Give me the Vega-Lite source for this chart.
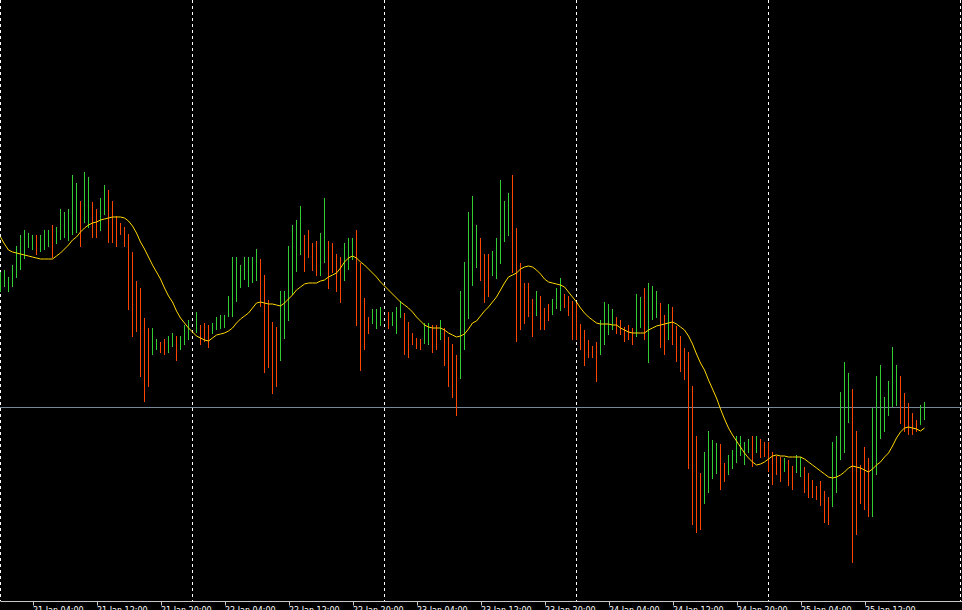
{
"$schema": "https://vega.github.io/schema/vega-lite/v6.json",
"width": 962, "height": 601,
"autosize": {"type": "none"},
"padding": {"left": 0, "top": 0, "right": 0, "bottom": 9},
"background": "#000000",
"config": {"view": {"stroke": null},
 "axisX": {"domainColor": "#C8C8C8", "tickColor": "#C8C8C8", "tickSize": 4, "labelColor": "#FFFFFF", "labelFont": "DejaVu Sans", "labelFontSize": 8, "labelAlign": "left", "labelBaseline": "top", "labelPadding": 1, "labelOverlap": false, "labelFlush": false, "labelBound": false, "grid": false, "title": null}},
"datasets": {
"days": [{"t":"2019-01-21T00:00:00Z"},{"t":"2019-01-22T00:00:00Z"},{"t":"2019-01-23T00:00:00Z"},{"t":"2019-01-24T00:00:00Z"},{"t":"2019-01-25T00:00:00Z"},{"t":"2019-01-26T00:00:00Z"}],
"bars": [
{"t":"2019-01-21T00:00:00Z","h":728,"l":708,"d":"up","ma":763},
{"t":"2019-01-21T00:30:00Z","h":730,"l":713,"d":"up","ma":756},
{"t":"2019-01-21T01:00:00Z","h":723,"l":708,"d":"up","ma":750},
{"t":"2019-01-21T01:30:00Z","h":735,"l":713,"d":"up","ma":748},
{"t":"2019-01-21T02:00:00Z","h":754,"l":722,"d":"up","ma":747},
{"t":"2019-01-21T02:30:00Z","h":765,"l":730,"d":"up","ma":746},
{"t":"2019-01-21T03:00:00Z","h":770,"l":741,"d":"up","ma":745},
{"t":"2019-01-21T03:30:00Z","h":767,"l":752,"d":"up","ma":744},
{"t":"2019-01-21T04:00:00Z","h":765,"l":750,"d":"up","ma":743},
{"t":"2019-01-21T04:30:00Z","h":765,"l":745,"d":"down","ma":742},
{"t":"2019-01-21T05:00:00Z","h":765,"l":748,"d":"up","ma":741},
{"t":"2019-01-21T05:30:00Z","h":770,"l":750,"d":"up","ma":741},
{"t":"2019-01-21T06:00:00Z","h":770,"l":753,"d":"up","ma":741},
{"t":"2019-01-21T06:30:00Z","h":775,"l":742,"d":"down","ma":741},
{"t":"2019-01-21T07:00:00Z","h":773,"l":756,"d":"up","ma":744},
{"t":"2019-01-21T07:30:00Z","h":791,"l":760,"d":"up","ma":747},
{"t":"2019-01-21T08:00:00Z","h":788,"l":762,"d":"up","ma":751},
{"t":"2019-01-21T08:30:00Z","h":791,"l":759,"d":"up","ma":755},
{"t":"2019-01-21T09:00:00Z","h":825,"l":765,"d":"up","ma":760},
{"t":"2019-01-21T09:30:00Z","h":817,"l":767,"d":"up","ma":763},
{"t":"2019-01-21T10:00:00Z","h":799,"l":753,"d":"down","ma":768},
{"t":"2019-01-21T10:30:00Z","h":828,"l":777,"d":"up","ma":772},
{"t":"2019-01-21T11:00:00Z","h":823,"l":772,"d":"up","ma":775},
{"t":"2019-01-21T11:30:00Z","h":798,"l":762,"d":"down","ma":777},
{"t":"2019-01-21T12:00:00Z","h":791,"l":762,"d":"down","ma":778},
{"t":"2019-01-21T12:30:00Z","h":802,"l":769,"d":"up","ma":780},
{"t":"2019-01-21T13:00:00Z","h":815,"l":785,"d":"up","ma":781},
{"t":"2019-01-21T13:30:00Z","h":810,"l":757,"d":"down","ma":782},
{"t":"2019-01-21T14:00:00Z","h":799,"l":757,"d":"down","ma":783},
{"t":"2019-01-21T14:30:00Z","h":784,"l":753,"d":"down","ma":783},
{"t":"2019-01-21T15:00:00Z","h":777,"l":765,"d":"down","ma":783},
{"t":"2019-01-21T15:30:00Z","h":773,"l":753,"d":"down","ma":782},
{"t":"2019-01-21T16:00:00Z","h":766,"l":690,"d":"down","ma":779},
{"t":"2019-01-21T16:30:00Z","h":748,"l":663,"d":"down","ma":774},
{"t":"2019-01-21T17:00:00Z","h":719,"l":668,"d":"down","ma":767},
{"t":"2019-01-21T17:30:00Z","h":712,"l":623,"d":"down","ma":758},
{"t":"2019-01-21T18:00:00Z","h":682,"l":598,"d":"down","ma":751},
{"t":"2019-01-21T18:30:00Z","h":672,"l":613,"d":"down","ma":743},
{"t":"2019-01-21T19:00:00Z","h":672,"l":645,"d":"up","ma":735},
{"t":"2019-01-21T19:30:00Z","h":661,"l":650,"d":"up","ma":728},
{"t":"2019-01-21T20:00:00Z","h":658,"l":647,"d":"down","ma":721},
{"t":"2019-01-21T20:30:00Z","h":661,"l":645,"d":"down","ma":712},
{"t":"2019-01-21T21:00:00Z","h":664,"l":647,"d":"up","ma":704},
{"t":"2019-01-21T21:30:00Z","h":667,"l":653,"d":"up","ma":698},
{"t":"2019-01-21T22:00:00Z","h":664,"l":639,"d":"down","ma":689},
{"t":"2019-01-21T22:30:00Z","h":664,"l":650,"d":"up","ma":682},
{"t":"2019-01-21T23:00:00Z","h":675,"l":655,"d":"up","ma":677},
{"t":"2019-01-21T23:30:00Z","h":680,"l":660,"d":"up","ma":672},
{"t":"2019-01-22T00:00:00Z","ma":668},
{"t":"2019-01-22T00:30:00Z","h":688,"l":667,"d":"up","ma":664},
{"t":"2019-01-22T01:00:00Z","h":675,"l":655,"d":"down","ma":662},
{"t":"2019-01-22T01:30:00Z","h":677,"l":658,"d":"down","ma":660},
{"t":"2019-01-22T02:00:00Z","h":675,"l":652,"d":"down","ma":659},
{"t":"2019-01-22T02:30:00Z","h":677,"l":666,"d":"up","ma":662},
{"t":"2019-01-22T03:00:00Z","h":683,"l":670,"d":"up","ma":665},
{"t":"2019-01-22T03:30:00Z","h":685,"l":671,"d":"up","ma":666},
{"t":"2019-01-22T04:00:00Z","h":685,"l":672,"d":"up","ma":667},
{"t":"2019-01-22T04:30:00Z","h":704,"l":683,"d":"up","ma":669},
{"t":"2019-01-22T05:00:00Z","h":743,"l":683,"d":"up","ma":672},
{"t":"2019-01-22T05:30:00Z","h":743,"l":698,"d":"up","ma":677},
{"t":"2019-01-22T06:00:00Z","h":735,"l":712,"d":"up","ma":681},
{"t":"2019-01-22T06:30:00Z","h":743,"l":720,"d":"up","ma":684},
{"t":"2019-01-22T07:00:00Z","h":743,"l":713,"d":"up","ma":687},
{"t":"2019-01-22T07:30:00Z","h":743,"l":717,"d":"up","ma":692},
{"t":"2019-01-22T08:00:00Z","h":751,"l":719,"d":"up","ma":697},
{"t":"2019-01-22T08:30:00Z","h":741,"l":693,"d":"down","ma":698},
{"t":"2019-01-22T09:00:00Z","h":725,"l":627,"d":"down","ma":697},
{"t":"2019-01-22T09:30:00Z","h":700,"l":632,"d":"down","ma":696},
{"t":"2019-01-22T10:00:00Z","h":678,"l":606,"d":"down","ma":696},
{"t":"2019-01-22T10:30:00Z","h":673,"l":613,"d":"down","ma":695},
{"t":"2019-01-22T11:00:00Z","h":709,"l":639,"d":"up","ma":694},
{"t":"2019-01-22T11:30:00Z","h":709,"l":661,"d":"up","ma":697},
{"t":"2019-01-22T12:00:00Z","h":754,"l":679,"d":"up","ma":701},
{"t":"2019-01-22T12:30:00Z","h":775,"l":705,"d":"up","ma":705},
{"t":"2019-01-22T13:00:00Z","h":780,"l":728,"d":"up","ma":710},
{"t":"2019-01-22T13:30:00Z","h":794,"l":745,"d":"up","ma":713},
{"t":"2019-01-22T14:00:00Z","h":765,"l":728,"d":"down","ma":716},
{"t":"2019-01-22T14:30:00Z","h":770,"l":742,"d":"down","ma":717},
{"t":"2019-01-22T15:00:00Z","h":757,"l":729,"d":"down","ma":717},
{"t":"2019-01-22T15:30:00Z","h":759,"l":724,"d":"down","ma":717},
{"t":"2019-01-22T16:00:00Z","h":767,"l":724,"d":"up","ma":719},
{"t":"2019-01-22T16:30:00Z","h":802,"l":737,"d":"up","ma":720},
{"t":"2019-01-22T17:00:00Z","h":759,"l":711,"d":"down","ma":723},
{"t":"2019-01-22T17:30:00Z","h":757,"l":727,"d":"down","ma":725},
{"t":"2019-01-22T18:00:00Z","h":746,"l":708,"d":"down","ma":727},
{"t":"2019-01-22T18:30:00Z","h":743,"l":697,"d":"down","ma":732},
{"t":"2019-01-22T19:00:00Z","h":757,"l":719,"d":"up","ma":738},
{"t":"2019-01-22T19:30:00Z","h":762,"l":730,"d":"up","ma":742},
{"t":"2019-01-22T20:00:00Z","h":762,"l":740,"d":"up","ma":744},
{"t":"2019-01-22T20:30:00Z","h":770,"l":674,"d":"down","ma":742},
{"t":"2019-01-22T21:00:00Z","h":737,"l":629,"d":"down","ma":738},
{"t":"2019-01-22T21:30:00Z","h":702,"l":650,"d":"down","ma":735},
{"t":"2019-01-22T22:00:00Z","h":683,"l":666,"d":"down","ma":731},
{"t":"2019-01-22T22:30:00Z","h":691,"l":676,"d":"up","ma":727},
{"t":"2019-01-22T23:00:00Z","h":691,"l":671,"d":"up","ma":723},
{"t":"2019-01-22T23:30:00Z","h":693,"l":674,"d":"up","ma":718},
{"t":"2019-01-23T00:00:00Z","ma":714},
{"t":"2019-01-23T00:30:00Z","h":688,"l":671,"d":"down","ma":710},
{"t":"2019-01-23T01:00:00Z","h":688,"l":674,"d":"up","ma":706},
{"t":"2019-01-23T01:30:00Z","h":693,"l":666,"d":"up","ma":702},
{"t":"2019-01-23T02:00:00Z","h":699,"l":682,"d":"up","ma":698},
{"t":"2019-01-23T02:30:00Z","h":687,"l":645,"d":"down","ma":695},
{"t":"2019-01-23T03:00:00Z","h":678,"l":642,"d":"down","ma":692},
{"t":"2019-01-23T03:30:00Z","h":667,"l":655,"d":"down","ma":688},
{"t":"2019-01-23T04:00:00Z","h":662,"l":651,"d":"down","ma":683},
{"t":"2019-01-23T04:30:00Z","h":661,"l":650,"d":"down","ma":679},
{"t":"2019-01-23T05:00:00Z","h":677,"l":656,"d":"up","ma":675},
{"t":"2019-01-23T05:30:00Z","h":677,"l":655,"d":"up","ma":673},
{"t":"2019-01-23T06:00:00Z","h":675,"l":647,"d":"down","ma":672},
{"t":"2019-01-23T06:30:00Z","h":675,"l":650,"d":"down","ma":672},
{"t":"2019-01-23T07:00:00Z","h":680,"l":660,"d":"up","ma":672},
{"t":"2019-01-23T07:30:00Z","h":672,"l":634,"d":"down","ma":670},
{"t":"2019-01-23T08:00:00Z","h":663,"l":613,"d":"down","ma":667},
{"t":"2019-01-23T08:30:00Z","h":656,"l":602,"d":"down","ma":665},
{"t":"2019-01-23T09:00:00Z","h":645,"l":584,"d":"down","ma":663},
{"t":"2019-01-23T09:30:00Z","h":709,"l":621,"d":"up","ma":664},
{"t":"2019-01-23T10:00:00Z","h":738,"l":650,"d":"up","ma":666},
{"t":"2019-01-23T10:30:00Z","h":788,"l":681,"d":"up","ma":671},
{"t":"2019-01-23T11:00:00Z","h":804,"l":714,"d":"up","ma":677},
{"t":"2019-01-23T11:30:00Z","h":775,"l":732,"d":"up","ma":679},
{"t":"2019-01-23T12:00:00Z","h":762,"l":719,"d":"down","ma":684},
{"t":"2019-01-23T12:30:00Z","h":746,"l":697,"d":"down","ma":689},
{"t":"2019-01-23T13:00:00Z","h":746,"l":703,"d":"down","ma":693},
{"t":"2019-01-23T13:30:00Z","h":749,"l":724,"d":"up","ma":698},
{"t":"2019-01-23T14:00:00Z","h":762,"l":721,"d":"up","ma":703},
{"t":"2019-01-23T14:30:00Z","h":820,"l":736,"d":"up","ma":710},
{"t":"2019-01-23T15:00:00Z","h":799,"l":758,"d":"up","ma":717},
{"t":"2019-01-23T15:30:00Z","h":807,"l":764,"d":"up","ma":723},
{"t":"2019-01-23T16:00:00Z","h":825,"l":727,"d":"down","ma":725},
{"t":"2019-01-23T16:30:00Z","h":772,"l":658,"d":"down","ma":727},
{"t":"2019-01-23T17:00:00Z","h":737,"l":670,"d":"down","ma":731},
{"t":"2019-01-23T17:30:00Z","h":717,"l":676,"d":"down","ma":733},
{"t":"2019-01-23T18:00:00Z","h":717,"l":683,"d":"down","ma":734},
{"t":"2019-01-23T18:30:00Z","h":701,"l":663,"d":"down","ma":733},
{"t":"2019-01-23T19:00:00Z","h":709,"l":684,"d":"up","ma":730},
{"t":"2019-01-23T19:30:00Z","h":704,"l":670,"d":"down","ma":726},
{"t":"2019-01-23T20:00:00Z","h":692,"l":670,"d":"down","ma":721},
{"t":"2019-01-23T20:30:00Z","h":696,"l":679,"d":"down","ma":718},
{"t":"2019-01-23T21:00:00Z","h":701,"l":685,"d":"up","ma":717},
{"t":"2019-01-23T21:30:00Z","h":712,"l":691,"d":"up","ma":716},
{"t":"2019-01-23T22:00:00Z","h":722,"l":689,"d":"up","ma":715},
{"t":"2019-01-23T22:30:00Z","h":706,"l":692,"d":"down","ma":713},
{"t":"2019-01-23T23:00:00Z","h":704,"l":684,"d":"down","ma":708},
{"t":"2019-01-23T23:30:00Z","h":699,"l":660,"d":"down","ma":703},
{"t":"2019-01-24T00:00:00Z","h":697,"l":660,"d":"down","ma":698},
{"t":"2019-01-24T00:30:00Z","h":676,"l":650,"d":"down","ma":692},
{"t":"2019-01-24T01:00:00Z","h":670,"l":634,"d":"down","ma":687},
{"t":"2019-01-24T01:30:00Z","h":660,"l":642,"d":"down","ma":683},
{"t":"2019-01-24T02:00:00Z","h":654,"l":642,"d":"down","ma":680},
{"t":"2019-01-24T02:30:00Z","h":658,"l":618,"d":"down","ma":677},
{"t":"2019-01-24T03:00:00Z","h":680,"l":645,"d":"up","ma":676},
{"t":"2019-01-24T03:30:00Z","h":698,"l":655,"d":"up","ma":676},
{"t":"2019-01-24T04:00:00Z","h":696,"l":665,"d":"up","ma":676},
{"t":"2019-01-24T04:30:00Z","h":691,"l":670,"d":"up","ma":675},
{"t":"2019-01-24T05:00:00Z","h":683,"l":666,"d":"down","ma":675},
{"t":"2019-01-24T05:30:00Z","h":680,"l":665,"d":"down","ma":672},
{"t":"2019-01-24T06:00:00Z","h":673,"l":658,"d":"down","ma":670},
{"t":"2019-01-24T06:30:00Z","h":675,"l":660,"d":"down","ma":668},
{"t":"2019-01-24T07:00:00Z","h":672,"l":655,"d":"down","ma":667},
{"t":"2019-01-24T07:30:00Z","h":706,"l":663,"d":"up","ma":667},
{"t":"2019-01-24T08:00:00Z","h":703,"l":672,"d":"up","ma":667},
{"t":"2019-01-24T08:30:00Z","h":712,"l":660,"d":"down","ma":667},
{"t":"2019-01-24T09:00:00Z","h":717,"l":637,"d":"up","ma":670},
{"t":"2019-01-24T09:30:00Z","h":714,"l":680,"d":"up","ma":672},
{"t":"2019-01-24T10:00:00Z","h":709,"l":682,"d":"up","ma":674},
{"t":"2019-01-24T10:30:00Z","h":697,"l":652,"d":"down","ma":675},
{"t":"2019-01-24T11:00:00Z","h":685,"l":645,"d":"down","ma":676},
{"t":"2019-01-24T11:30:00Z","h":696,"l":660,"d":"up","ma":677},
{"t":"2019-01-24T12:00:00Z","h":693,"l":655,"d":"down","ma":678},
{"t":"2019-01-24T12:30:00Z","h":674,"l":638,"d":"down","ma":676},
{"t":"2019-01-24T13:00:00Z","h":664,"l":628,"d":"down","ma":673},
{"t":"2019-01-24T13:30:00Z","h":652,"l":620,"d":"down","ma":670},
{"t":"2019-01-24T14:00:00Z","h":648,"l":531,"d":"down","ma":664},
{"t":"2019-01-24T14:30:00Z","h":614,"l":475,"d":"down","ma":656},
{"t":"2019-01-24T15:00:00Z","h":564,"l":467,"d":"down","ma":646},
{"t":"2019-01-24T15:30:00Z","h":527,"l":470,"d":"down","ma":637},
{"t":"2019-01-24T16:00:00Z","h":548,"l":496,"d":"up","ma":630},
{"t":"2019-01-24T16:30:00Z","h":569,"l":507,"d":"up","ma":620},
{"t":"2019-01-24T17:00:00Z","h":560,"l":521,"d":"up","ma":611},
{"t":"2019-01-24T17:30:00Z","h":557,"l":526,"d":"up","ma":602},
{"t":"2019-01-24T18:00:00Z","h":556,"l":510,"d":"down","ma":591},
{"t":"2019-01-24T18:30:00Z","h":537,"l":518,"d":"down","ma":581},
{"t":"2019-01-24T19:00:00Z","h":545,"l":525,"d":"up","ma":572},
{"t":"2019-01-24T19:30:00Z","h":550,"l":531,"d":"up","ma":565},
{"t":"2019-01-24T20:00:00Z","h":564,"l":537,"d":"up","ma":559},
{"t":"2019-01-24T20:30:00Z","h":564,"l":544,"d":"up","ma":553},
{"t":"2019-01-24T21:00:00Z","h":558,"l":535,"d":"up","ma":547},
{"t":"2019-01-24T21:30:00Z","h":561,"l":547,"d":"up","ma":542},
{"t":"2019-01-24T22:00:00Z","h":564,"l":533,"d":"down","ma":538},
{"t":"2019-01-24T22:30:00Z","h":564,"l":547,"d":"up","ma":535},
{"t":"2019-01-24T23:00:00Z","h":561,"l":542,"d":"down","ma":536},
{"t":"2019-01-24T23:30:00Z","h":558,"l":543,"d":"down","ma":538},
{"t":"2019-01-25T00:00:00Z","h":558,"l":528,"d":"down","ma":541},
{"t":"2019-01-25T00:30:00Z","h":548,"l":515,"d":"down","ma":544},
{"t":"2019-01-25T01:00:00Z","h":544,"l":525,"d":"down","ma":545},
{"t":"2019-01-25T01:30:00Z","h":543,"l":518,"d":"down","ma":544},
{"t":"2019-01-25T02:00:00Z","h":542,"l":528,"d":"up","ma":544},
{"t":"2019-01-25T02:30:00Z","h":540,"l":514,"d":"down","ma":543},
{"t":"2019-01-25T03:00:00Z","h":534,"l":510,"d":"down","ma":543},
{"t":"2019-01-25T03:30:00Z","h":545,"l":527,"d":"up","ma":543},
{"t":"2019-01-25T04:00:00Z","h":543,"l":523,"d":"up","ma":543},
{"t":"2019-01-25T04:30:00Z","h":533,"l":507,"d":"down","ma":541},
{"t":"2019-01-25T05:00:00Z","h":527,"l":502,"d":"down","ma":538},
{"t":"2019-01-25T05:30:00Z","h":520,"l":502,"d":"down","ma":535},
{"t":"2019-01-25T06:00:00Z","h":514,"l":500,"d":"down","ma":532},
{"t":"2019-01-25T06:30:00Z","h":519,"l":494,"d":"down","ma":529},
{"t":"2019-01-25T07:00:00Z","h":509,"l":477,"d":"down","ma":526},
{"t":"2019-01-25T07:30:00Z","h":503,"l":475,"d":"down","ma":523},
{"t":"2019-01-25T08:00:00Z","h":558,"l":493,"d":"up","ma":522},
{"t":"2019-01-25T08:30:00Z","h":564,"l":507,"d":"up","ma":523},
{"t":"2019-01-25T09:00:00Z","h":608,"l":540,"d":"up","ma":525},
{"t":"2019-01-25T09:30:00Z","h":638,"l":547,"d":"up","ma":528},
{"t":"2019-01-25T10:00:00Z","h":627,"l":577,"d":"up","ma":532},
{"t":"2019-01-25T10:30:00Z","h":611,"l":437,"d":"down","ma":534},
{"t":"2019-01-25T11:00:00Z","h":569,"l":465,"d":"down","ma":533},
{"t":"2019-01-25T11:30:00Z","h":535,"l":496,"d":"down","ma":532},
{"t":"2019-01-25T12:00:00Z","h":553,"l":490,"d":"down","ma":530},
{"t":"2019-01-25T12:30:00Z","h":542,"l":483,"d":"down","ma":528},
{"t":"2019-01-25T13:00:00Z","h":592,"l":483,"d":"up","ma":531},
{"t":"2019-01-25T13:30:00Z","h":624,"l":525,"d":"up","ma":535},
{"t":"2019-01-25T14:00:00Z","h":635,"l":561,"d":"up","ma":538},
{"t":"2019-01-25T14:30:00Z","h":603,"l":568,"d":"up","ma":543},
{"t":"2019-01-25T15:00:00Z","h":619,"l":584,"d":"up","ma":547},
{"t":"2019-01-25T15:30:00Z","h":653,"l":593,"d":"up","ma":554},
{"t":"2019-01-25T16:00:00Z","h":635,"l":594,"d":"up","ma":562},
{"t":"2019-01-25T16:30:00Z","h":624,"l":576,"d":"down","ma":568},
{"t":"2019-01-25T17:00:00Z","h":607,"l":568,"d":"down","ma":572},
{"t":"2019-01-25T17:30:00Z","h":597,"l":565,"d":"down","ma":573},
{"t":"2019-01-25T18:00:00Z","h":587,"l":565,"d":"down","ma":572},
{"t":"2019-01-25T18:30:00Z","h":580,"l":568,"d":"down","ma":571},
{"t":"2019-01-25T19:00:00Z","h":595,"l":575,"d":"up","ma":569},
{"t":"2019-01-25T19:30:00Z","h":598,"l":580,"d":"up","ma":572}
]},
"layer": [
{"data": {"name": "days"},
 "mark": {"type": "rule", "color": "#FFFFFF", "strokeWidth": 1, "strokeDash": [3, 3]},
 "encoding": {"x": {"field": "t", "type": "temporal", "scale": {"type": "utc", "domain": [1548028575000, 1548461475000]}, "axis": {"values": [1548014400000, 1548043200000, 1548072000000, 1548100800000, 1548129600000, 1548158400000, 1548187200000, 1548216000000, 1548244800000, 1548273600000, 1548302400000, 1548331200000, 1548360000000, 1548388800000, 1548417600000], "labelExpr": "utcFormat(datum.value, '%d %b %H:%M')", "title": null}}}},
{"data": {"values": [{"p": 592.5}]},
 "mark": {"type": "rule", "color": "#778899", "strokeWidth": 1},
 "encoding": {"y": {"field": "p", "type": "quantitative", "scale": {"domain": [399, 1000]}, "axis": null}}},
{"data": {"name": "bars"},
 "mark": {"type": "rule", "strokeWidth": 1},
 "encoding": {
  "x": {"field": "t", "type": "temporal", "scale": {"type": "utc", "domain": [1548028575000, 1548461475000]}, "axis": {"values": [1548014400000, 1548043200000, 1548072000000, 1548100800000, 1548129600000, 1548158400000, 1548187200000, 1548216000000, 1548244800000, 1548273600000, 1548302400000, 1548331200000, 1548360000000, 1548388800000, 1548417600000], "labelExpr": "utcFormat(datum.value, '%d %b %H:%M')", "title": null}},
  "y": {"field": "h", "type": "quantitative", "scale": {"domain": [399, 1000]}, "axis": null},
  "y2": {"field": "l"},
  "color": {"field": "d", "type": "nominal", "scale": {"domain": ["up", "down"], "range": ["#32CD32", "#FF4500"]}, "legend": null}}},
{"data": {"name": "bars"},
 "mark": {"type": "line", "color": "#FFD700", "strokeWidth": 1},
 "encoding": {
  "x": {"field": "t", "type": "temporal", "scale": {"type": "utc", "domain": [1548028575000, 1548461475000]}, "axis": {"values": [1548014400000, 1548043200000, 1548072000000, 1548100800000, 1548129600000, 1548158400000, 1548187200000, 1548216000000, 1548244800000, 1548273600000, 1548302400000, 1548331200000, 1548360000000, 1548388800000, 1548417600000], "labelExpr": "utcFormat(datum.value, '%d %b %H:%M')", "title": null}},
  "y": {"field": "ma", "type": "quantitative", "scale": {"domain": [399, 1000]}, "axis": null}}}
]
}
